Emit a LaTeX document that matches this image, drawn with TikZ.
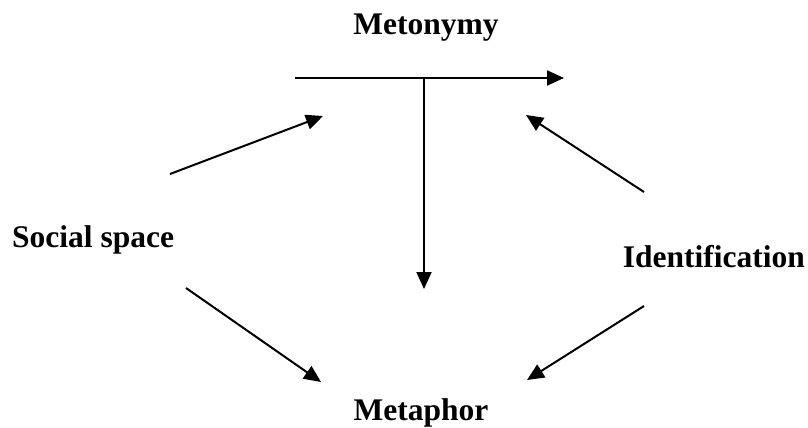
\documentclass[tikz,border=0pt]{standalone}
\usepackage{fontspec}
\setmainfont{Liberation Serif}
\usetikzlibrary{arrows.meta}
\begin{document}
\begin{tikzpicture}[x=1pt,y=-1pt,
  lbl/.style={font=\fontsize{31.5}{36}\selectfont\bfseries, inner sep=0pt},
  arr/.style={line width=2pt, -{Triangle[length=17pt,width=15pt]}}]
\useasboundingbox (0,0) rectangle (808,428);
\node[lbl, anchor=base] (meto) at (426,35) {Metonymy};
\node[lbl, anchor=base west] (soc) at (12,247) {Social space};
\node[lbl, anchor=base east] (ident) at (805,267) {Identification};
\node[lbl, anchor=base] (meta) at (421,420) {Metaphor};
\coordinate (hl) at (295,78);
\coordinate (hr) at (564,78);
\coordinate (vj) at (424,78);
\coordinate (vb) at (424,289);
\coordinate (s1) at (170,174);
\coordinate (t1) at (323,116);
\coordinate (s2) at (644,192);
\coordinate (t2) at (526,115);
\coordinate (s3) at (186,288);
\coordinate (t3) at (321,382);
\coordinate (s4) at (644,306);
\coordinate (t4) at (527,380);
\draw[arr] (hl) -- (hr);
\draw[arr] (vj) -- (vb);
\draw[arr] (s1) -- (t1);
\draw[arr] (s2) -- (t2);
\draw[arr] (s3) -- (t3);
\draw[arr] (s4) -- (t4);
\end{tikzpicture}
\end{document}
